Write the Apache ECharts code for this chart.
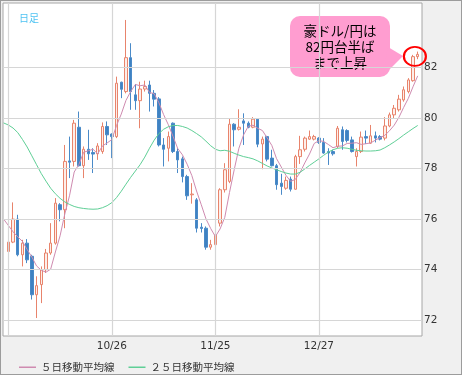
<!DOCTYPE html>
<html><head><meta charset="utf-8">
<script src="https://cdn.jsdelivr.net/npm/echarts@6/dist/echarts.min.js"></script>
<style>
html,body{margin:0;padding:0;background:#fff;}
#wrap{position:relative;width:466px;height:380px;overflow:hidden;}
#panel{position:absolute;left:0;top:0;width:460px;height:373px;border:1px solid #9c9c9c;background:#f0f0f0;}
#chart{position:absolute;left:0;top:0;width:466px;height:380px;}
</style></head><body>
<div id="wrap"><div id="panel"></div><div id="chart"></div></div>
<script>
// trading days (category for each candle)
const dates = ['9/26','9/27','9/28','9/29','9/30','10/3','10/4','10/5','10/6','10/7',
'10/10','10/11','10/12','10/13','10/14','10/17','10/18','10/19','10/20','10/21',
'10/24','10/25','10/26','10/27','10/28','10/31','11/1','11/2','11/3','11/4',
'11/7','11/8','11/9','11/10','11/11','11/14','11/15','11/16','11/17','11/18',
'11/21','11/22','11/23','11/24','11/25','11/28','11/29','11/30','12/1','12/2',
'12/5','12/6','12/7','12/8','12/9','12/12','12/13','12/14','12/15','12/16',
'12/19','12/20','12/21','12/22','12/23','12/26','12/27','12/28','12/29','12/30',
'1/2','1/3','1/4','1/5','1/6','1/9','1/10','1/11','1/12','1/13',
'1/16','1/17','1/18','1/19','1/20','1/23','1/24','1/25'];
const opens = [74.72,75.09,76.00,74.59,75.05,74.53,73.01,73.41,74.00,74.66,
75.05,76.57,76.37,78.30,78.28,79.63,78.11,78.76,78.63,78.58,
78.67,79.66,79.36,79.26,81.41,81.04,82.38,80.91,80.68,81.14,
81.30,80.97,80.75,78.93,78.80,79.79,78.67,78.38,77.68,76.96,
76.76,75.68,75.64,74.89,74.99,75.84,77.16,77.49,79.75,79.55,
79.88,79.79,79.63,79.95,78.97,79.26,78.41,78.11,77.42,77.22,
77.58,77.18,78.47,78.76,79.16,79.16,79.20,79.03,78.67,78.67,
78.87,79.53,79.50,79.13,78.47,78.67,79.26,79.00,79.29,79.26,
79.20,79.68,80.12,80.32,80.71,81.04,81.47,82.42];
const closes = [75.09,76.00,74.59,75.05,74.39,73.01,73.37,74.00,74.66,75.05,
76.63,76.37,78.28,78.25,79.79,78.11,78.76,78.58,78.57,78.89,
79.66,79.33,79.26,81.37,81.13,82.38,81.04,80.68,81.14,81.24,
80.97,80.74,78.93,78.76,79.26,78.67,78.34,77.68,76.92,76.99,
75.64,75.63,74.89,74.99,75.38,77.16,77.95,79.75,79.53,79.63,
79.79,79.63,79.95,78.96,79.16,78.37,78.11,77.36,77.29,77.53,
77.18,78.47,78.74,79.20,79.26,79.26,79.03,78.61,78.61,78.58,
79.59,79.07,79.11,78.67,78.67,79.24,79.20,79.29,79.20,79.16,
79.68,80.12,80.38,80.74,81.11,81.50,82.42,82.51];
const lows = [73.34,75.05,74.53,74.13,74.26,72.82,72.09,72.68,73.87,74.59,
74.99,75.91,75.64,77.62,78.08,78.08,77.62,78.34,77.82,78.34,
78.58,78.93,78.41,79.20,80.78,80.97,80.32,80.32,79.59,81.04,
80.25,80.45,78.87,78.08,78.28,78.61,77.82,77.45,76.76,76.61,
75.47,75.47,74.79,74.79,74.79,75.71,77.05,77.42,78.87,79.50,
78.93,79.59,79.59,78.84,77.97,78.28,78.08,77.16,76.96,77.16,
77.09,77.16,78.18,78.67,79.13,79.11,78.97,78.58,78.14,78.51,
78.80,78.74,79.03,78.63,78.08,78.61,78.97,78.97,79.03,79.11,
79.11,79.63,79.99,80.25,80.64,80.97,81.43,82.32];
const highs = [75.32,76.66,76.17,75.18,75.21,74.59,73.74,74.13,74.82,75.84,
76.83,76.63,78.93,79.26,79.92,80.25,78.87,79.53,78.80,79.00,
79.82,79.86,79.39,81.63,81.43,83.87,82.95,81.34,81.43,81.47,
81.47,81.10,80.82,79.20,79.46,79.82,78.80,78.47,77.75,77.42,
76.83,75.84,75.71,75.18,75.84,77.22,78.21,79.99,79.79,80.34,
80.18,79.86,80.03,79.99,79.26,79.29,78.74,78.18,77.79,77.68,
77.68,78.54,79.29,79.26,79.50,79.33,79.24,79.20,78.80,78.74,
79.68,79.66,79.55,79.26,78.80,79.46,79.50,79.72,79.46,79.32,
80.03,80.21,80.51,80.91,81.24,81.57,82.49,82.62];
// moving averages; first value sits one day before the first candle
const maStart = -1;
const ma5 = [76.00,75.75,75.50,75.30,75.12,74.80,74.50,74.15,73.98,73.90,74.02,
74.70,75.34,76.20,76.92,77.86,78.16,78.64,78.70,78.76,78.58,
78.89,79.01,79.14,79.70,80.15,80.69,81.04,81.32,81.27,81.30,
81.01,80.95,80.60,80.13,79.73,79.27,78.79,78.54,78.17,77.72,
77.11,76.57,76.01,75.63,75.31,75.61,76.07,77.05,77.95,78.80,
79.33,79.67,79.71,79.59,79.50,79.21,78.91,78.39,78.06,77.73,
77.49,77.57,77.84,78.22,78.57,78.99,79.10,79.07,78.95,78.82,
78.88,78.89,78.99,79.00,79.02,78.95,78.98,79.01,79.12,79.22,
79.31,79.49,79.71,80.02,80.41,80.77,81.23,81.66];
const ma25 = [79.80,79.72,79.60,79.42,79.15,78.85,78.50,78.15,77.80,77.50,77.22,
77.00,76.82,76.68,76.58,76.50,76.45,76.42,76.40,76.39,76.40,
76.45,76.53,76.65,76.85,77.10,77.38,77.65,77.90,78.15,78.45,
78.80,79.12,79.38,79.55,79.65,79.70,79.70,79.66,79.60,79.50,
79.38,79.25,79.08,78.90,78.76,78.70,78.72,78.68,78.60,78.53,
78.47,78.43,78.38,78.30,78.20,78.10,78.02,77.95,77.88,77.82,
77.78,77.78,77.85,77.98,78.12,78.25,78.38,78.52,78.65,78.74,
78.80,78.82,78.80,78.76,78.72,78.70,78.69,78.69,78.70,78.73,
78.82,78.93,79.05,79.18,79.32,79.45,79.58,79.70];
const yTicks = [72,74,76,78,80,82];
const xLabelDates = ['10/26','11/25','12/27'];
const xGridDates = ['9/26','10/26','11/25','12/27'];
const ma5Name = '５日移動平均線';
const ma25Name = '２５日移動平均線';

const chart = echarts.init(document.getElementById('chart'), null, {renderer:'canvas'});
const candleData = dates.map((d,i)=>[i, opens[i], closes[i], lows[i], highs[i]]);
const ma5Data = ma5.map((v,k)=>[k+maStart, v]);
const ma25Data = ma25.map((v,k)=>[k+maStart, v]);
const lastIdx = dates.length - 1;
const gridColor = '#d6d6d6';
const cjk = 'Noto Sans CJK JP';

const option = {
  animation:false,
  title:{text:'日足', left:14, top:8, textStyle:{fontSize:10, fontWeight:'normal', color:'#4fc3f2', fontFamily:cjk}},
  legend:{data:[ma5Name, ma25Name], left:14, top:357, icon:'rect', itemWidth:17, itemHeight:1.5, itemGap:14,
    textStyle:{fontSize:10.5, color:'#333', fontFamily:cjk}},
  grid:{left:3, top:3, width:419, height:333, show:true, backgroundColor:'#fff', borderColor:'#a6a6a6', borderWidth:1},
  xAxis:{type:'value', min:-1.13, max:87.91, minInterval:22, maxInterval:22, splitNumber:4,
    axisLine:{show:false}, axisTick:{show:false}, splitLine:{show:false},
    axisLabel:{margin:5, color:'#333', fontSize:10.5, fontFamily:'DejaVu Sans',
      formatter:(v)=>{const i=Math.round(v); return (Math.abs(v-i)<1e-6 && xLabelDates.includes(dates[i]))?dates[i]:'';}}},
  yAxis:{type:'value', position:'right', min:71.38, max:84.54, minInterval:2, maxInterval:2, splitNumber:6,
    axisLine:{show:false}, axisTick:{show:false}, splitLine:{show:false},
    axisLabel:{margin:2, color:'#333', fontSize:10.5, fontFamily:'DejaVu Sans',
      formatter:(v)=>yTicks.includes(v)?String(v):''}},
  graphic:[{
    type:'group', z:100, children:[
      {type:'rect', shape:{x:290, y:16, width:100, height:61, r:10}, style:{fill:'#ff9dd0'}},
      {type:'polygon', shape:{points:[[388,47],[403,56],[383,76]]}, style:{fill:'#ff9dd0'}},
      {type:'text', x:340, y:46.5, style:{text:'豪ドル/円は\n82円台半ば\nまで上昇', align:'center', verticalAlign:'middle',
        fontSize:13.5, lineHeight:16, fill:'#000', fontFamily:cjk}}
    ]}],
  series:[
    {type:'line', name:'grid', data:[], z:1, silent:true,
      markLine:{silent:true, symbol:'none', label:{show:false}, animation:false,
        lineStyle:{color:gridColor, width:1.2, type:'solid'},
        data:[...yTicks.map(v=>({yAxis:v})), ...xGridDates.map(d=>({xAxis:dates.indexOf(d)}))]}},
    {type:'candlestick', name:'candle', data:candleData, z:2, barWidth:3,
      dimensions:['idx','open','close','lowest','highest'], encode:{x:0, y:[1,2,3,4]},
      itemStyle:{color:'#fdeee9', color0:'#3f82c2', borderColor:'#e8846c', borderColor0:'#4a8ac8', borderWidth:1},
      markPoint:{silent:true, animation:false, label:{show:false},
        data:[{coord:[lastIdx-0.6, 82.43], symbol:'circle', symbolSize:[22,19],
          itemStyle:{color:'rgba(0,0,0,0)', borderColor:'#ff0000', borderWidth:2}}]}},
    {type:'line', name:ma5Name, data:ma5Data, z:3, showSymbol:false, symbol:'none',
      lineStyle:{color:'#cf8bb0', width:1}, itemStyle:{color:'#cf8bb0'}},
    {type:'line', name:ma25Name, data:ma25Data, z:3, showSymbol:false, symbol:'none',
      lineStyle:{color:'#5fcf96', width:1}, itemStyle:{color:'#5fcf96'}}
  ]
};
chart.setOption(option);
</script></body></html>
